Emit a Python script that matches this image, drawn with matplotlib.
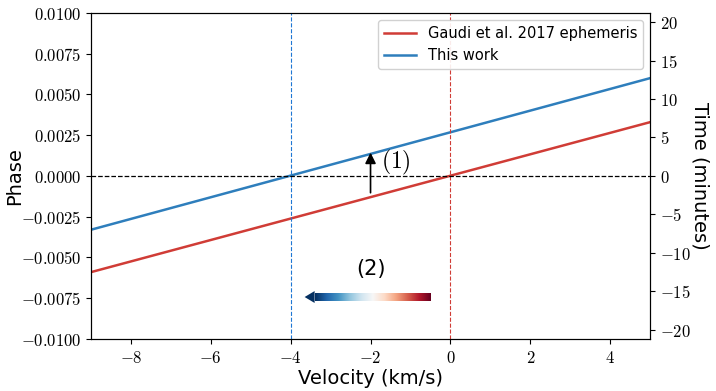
import numpy as np
import matplotlib
matplotlib.use('Agg')
import matplotlib.pyplot as plt
from matplotlib.ticker import FuncFormatter
from matplotlib.patches import Polygon

plt.rcParams['mathtext.fontset'] = 'cm'

# Data
velocity = [-9, 5]
phase_gaudi = [-0.0059, 0.0033]
phase_this = [-0.0033, 0.0060]
v_gaudi = 0.0
v_this = -4.0
minutes_per_phase = 2120.0

fig, ax = plt.subplots(figsize=(7.16, 3.91), dpi=100)
fig.subplots_adjust(left=0.127, right=0.908, top=0.967, bottom=0.133)

ax.plot(velocity, phase_gaudi, color='#d03c36', lw=1.8, label='Gaudi et al. 2017 ephemeris')
ax.plot(velocity, phase_this, color='#2e7ebc', lw=1.8, label='This work')
ax.axvline(v_gaudi, color='#d03c36', ls='--', lw=0.8)
ax.axvline(v_this, color='#1f77d4', ls='--', lw=0.8)
ax.axhline(0, color='black', ls='--', lw=0.9)

ax.set_xlim(-9, 5)
ax.set_ylim(-0.01, 0.01)
ax.set_yticks(np.arange(-0.01, 0.0101, 0.0025))
ax.yaxis.set_major_formatter(FuncFormatter(lambda v, p: '$%.4f$' % v if abs(v) > 1e-9 else '$0.0000$'))
ax.xaxis.set_major_formatter(FuncFormatter(lambda v, p: '$%d$' % v))
ax.tick_params(labelsize=12)
ax.set_xlabel('Velocity (km/s)', fontsize=14, labelpad=2)
ax.set_ylabel('Phase', fontsize=14)
ax.yaxis.set_label_coords(-0.12, 0.5)

# arrow (1)
ax.annotate('', xy=(-2, 0.0016), xytext=(-2, -0.0012),
            arrowprops=dict(arrowstyle='-|>', color='black', lw=1.2, mutation_scale=16))
ax.text(-1.75, 0.0008, '$(1)$', fontsize=17, ha='left', va='center')

# gradient arrow (2)
grad = np.linspace(0, 1, 256).reshape(1, -1)
ax.imshow(grad, cmap='RdBu_r', extent=(-3.4, -0.5, -0.00765, -0.0072),
          aspect='auto', zorder=3)
ax.add_patch(Polygon([[-3.65, -0.007425], [-3.4, -0.00706], [-3.4, -0.00779]],
                     closed=True, color=plt.get_cmap('RdBu_r')(0.0), zorder=3, lw=0))
ax.text(-2.0, -0.0057, '(2)', fontsize=15, ha='center', va='center')

ax.legend(loc='upper right', fontsize=10.5, framealpha=0.9, handlelength=2.2)

ax2 = ax.twinx()
ax2.set_ylim(-0.01 * minutes_per_phase, 0.01 * minutes_per_phase)
ax2.set_yticks(np.arange(-20, 21, 5))
ax2.yaxis.set_major_formatter(FuncFormatter(lambda v, p: '$%d$' % v))
ax2.tick_params(labelsize=12)
ax2.set_ylabel('Time (minutes)', fontsize=14, rotation=270, va='center')
ax2.yaxis.set_label_coords(1.09, 0.5)

plt.savefig('out.png', dpi=100)
